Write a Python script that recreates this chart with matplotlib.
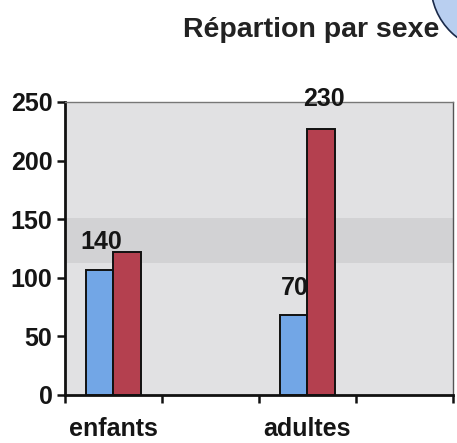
import numpy as np
import matplotlib
matplotlib.use("Agg")
import matplotlib.pyplot as plt
from matplotlib.patches import Circle

# ---- data ----
title = "Répartion par sexe"
categories = ["enfants", "adultes"]
blue_values = [107, 68]
red_values = [122, 227]
blue_labels = ["140", "70"]
red_labels = ["", "230"]
yticks = [0, 50, 100, 150, 200, 250]

plt.rcParams['font.family'] = ['Liberation Sans', 'DejaVu Sans']
plt.rcParams['font.weight'] = 'bold'

fig = plt.figure(figsize=(4.57, 4.43), dpi=100)
fig.patch.set_facecolor('white')
ax = fig.add_axes([0.142, 0.1084, 0.849, 0.6614])
ax.set_facecolor('#e1e1e3')

# scan band artefact
ax.axhspan(113, 151, color='#d2d2d4', zorder=0.5, lw=0)

x = np.arange(len(categories)) * 2
w = 0.287
bb = ax.bar(x - w / 2, blue_values, width=w, color='#72a6e6', edgecolor='#111111', linewidth=1.4, zorder=3)
rb = ax.bar(x + w / 2, red_values, width=w, color='#b4404f', edgecolor='#111111', linewidth=1.4, zorder=3)

for rect, lab in zip(bb, blue_labels):
    if lab:
        ax.annotate(lab, (rect.get_x() + rect.get_width() / 2, rect.get_height()),
                    xytext=(1, 11), textcoords='offset points', ha='center', va='bottom',
                    fontsize=18, fontweight='bold', color='#151515', zorder=5)
for rect, lab in zip(rb, red_labels):
    if lab:
        ax.annotate(lab, (rect.get_x() + rect.get_width() / 2, rect.get_height()),
                    xytext=(2, 13), textcoords='offset points', ha='center', va='bottom',
                    fontsize=18, fontweight='bold', color='#151515', zorder=5,
                    annotation_clip=False)

ax.set_xlim(-0.5, 3.5)
ax.set_ylim(0, 250)
ax.set_yticks(yticks)
ax.set_yticklabels([str(t) for t in yticks], fontsize=18, fontweight='bold', color='#151515')
ax.set_xticks(x)
ax.set_xticklabels(categories, fontsize=18, fontweight='bold', color='#151515')
ax.tick_params(axis='x', which='major', length=0, pad=16)
ax.set_xticks(np.arange(-0.5, 3.6, 1.0), minor=True)
ax.tick_params(axis='x', which='minor', length=6, width=1.8, direction='out', color='#111111')
ax.tick_params(axis='y', length=6, width=1.8, direction='out', color='#111111', pad=3)

ax.spines['left'].set_linewidth(2)
ax.spines['left'].set_color('#111111')
ax.spines['bottom'].set_linewidth(2)
ax.spines['bottom'].set_color('#111111')
ax.spines['top'].set_linewidth(1)
ax.spines['top'].set_color('#777777')
ax.spines['right'].set_linewidth(1)
ax.spines['right'].set_color('#555555')

fig.text(0.68, 0.932, title, ha='center', va='center', fontsize=20.5, fontweight='bold', color='#222222')

# decorative circle in top-right corner
circ = Circle((500 / 457, 1 + 15 / 443), 69 / 457, transform=fig.transFigure,
              facecolor='#b9cff0', edgecolor='#1a2a4a', linewidth=1.2, clip_on=False)
fig.patches.append(circ)

fig.savefig('out.png', dpi=100)
